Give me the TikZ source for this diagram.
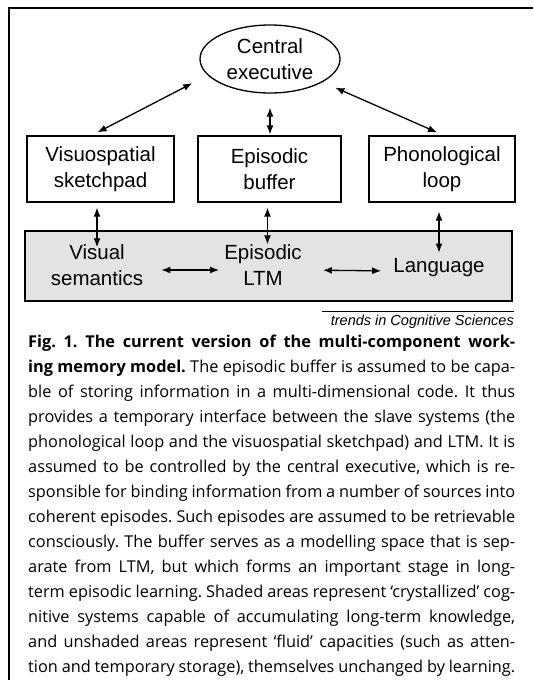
\documentclass[tikz,border=0pt]{standalone}
\usepackage{fontspec}
\setmainfont{Liberation Sans}
\newfontfamily\capfont{Open Sans}
\usetikzlibrary{arrows.meta,shapes.geometric}
\begin{document}
\frenchspacing
\begin{tikzpicture}[x=1pt,y=-1pt,
  lbl/.style={font=\fontsize{20.5}{26}\selectfont, align=center, inner sep=0pt},
  boxn/.style={draw, line width=1.3pt, minimum height=66pt, inner sep=0pt, lbl},
  dbl/.style={{Latex[length=9pt,width=7pt]}-{Latex[length=9pt,width=7pt]}, line width=1.3pt},
  capl/.style={anchor=west, inner sep=0pt, font=\capfont\fontsize{16.3}{18}\selectfont},
]
\useasboundingbox (0,0) rectangle (533,680);
\draw[line width=1.8pt] (9,680) -- (9,8) -- (533,8);

% top: central executive
\node[ellipse, draw, line width=1.3pt, minimum width=140pt, minimum height=68pt, lbl] (ce) at (270,59) {Central\\executive};

% slave systems
\node[boxn, minimum width=147pt] (vs) at (100.5,169) {Visuospatial\\sketchpad};
\node[boxn, minimum width=143pt] (eb) at (269.5,169) {Episodic\\buffer};
\node[boxn, minimum width=146pt] (pl) at (442,169) {Phonological\\loop};

% shaded long-term stores
\node[draw, fill=gray!22, line width=1.3pt, minimum width=487pt, minimum height=70pt, inner sep=0pt] (ltm) at (268.5,266) {};
\node[lbl] (vsem) at (97,265) {Visual\\semantics};
\node[lbl] (eltm) at (263,265) {Episodic\\LTM};
\node[lbl] (lang) at (439,268) {Language};

% connectors
\draw[dbl] ([shift={(-21pt,-3.6pt)}]ce.200) -- ([shift={(-3pt,3pt)}]vs.north);
\draw[dbl] ([shift={(13pt,-5.4pt)}]ce.336.6) -- ([shift={(-5pt,3pt)}]pl.north);
\draw[dbl, shorten <=14pt, shorten >=1pt] (ce.south) -- (ce.south |- eb.north);
\draw[dbl, shorten <=5pt] (vsem.north |- vs.south) -- ([yshift=-3pt]vsem.north);
\draw[dbl, shorten <=5pt] ([xshift=-2pt]eb.south) -- ([xshift=-2pt]eb.south |- eltm.north);
\draw[dbl, shorten <=9pt] (lang.north |- pl.south) -- ([yshift=6pt]lang.north);
\draw[dbl, shorten <=18pt, shorten >=5pt] ([yshift=-5pt]vsem.east) -- ([yshift=-5pt]eltm.west);
\draw[dbl, shorten <=21pt, shorten >=12pt] ([yshift=-5pt]eltm.east) -- ([yshift=-3pt]lang.west);

% source line
\node[anchor=east, inner sep=0pt, font=\itshape\fontsize{14.5}{17}\selectfont] (tr) at (514,322) {trends in Cognitive Sciences};
\draw[line width=0.9pt] ([shift={(-9pt,4pt)}]tr.north west) -- ([shift={(0pt,4pt)}]tr.north east);

% caption
\node[capl] (c1) at (28,343) {\makebox[487pt][s]{\textbf{Fig. 1. The current version of the multi-component work-}}};
\node[capl] (c2) at (28,368) {\makebox[487pt][s]{\textbf{ing memory model.} The episodic buffer is assumed to be capa-}};
\node[capl] (c3) at (28,393) {\makebox[487pt][s]{ble of storing information in a multi-dimensional code. It thus}};
\node[capl] (c4) at (28,418) {\makebox[487pt][s]{provides a temporary interface between the slave systems (the}};
\node[capl] (c5) at (28,443) {\makebox[487pt][s]{phonological loop and the visuospatial sketchpad) and LTM. It is}};
\node[capl] (c6) at (28,468) {\makebox[487pt][s]{assumed to be controlled by the central executive, which is re-}};
\node[capl] (c7) at (28,493) {\makebox[487pt][s]{sponsible for binding information from a number of sources into}};
\node[capl] (c8) at (28,518) {\makebox[487pt][s]{coherent episodes. Such episodes are assumed to be retrievable}};
\node[capl] (c9) at (28,543) {\makebox[487pt][s]{consciously. The buffer serves as a modelling space that is sep-}};
\node[capl] (c10) at (28,568) {\makebox[487pt][s]{arate from LTM, but which forms an important stage in long-}};
\node[capl] (c11) at (28,593) {\makebox[487pt][s]{term episodic learning. Shaded areas represent ‘crystallized’ cog-}};
\node[capl] (c12) at (28,618) {\makebox[487pt][s]{nitive systems capable of accumulating long-term knowledge,}};
\node[capl] (c13) at (28,643) {\makebox[487pt][s]{and unshaded areas represent ‘fluid’ capacities (such as atten-}};
\node[capl] (c14) at (28,668) {\makebox[487pt][s]{tion and temporary storage), themselves unchanged by learning.}};
\end{tikzpicture}
\end{document}
